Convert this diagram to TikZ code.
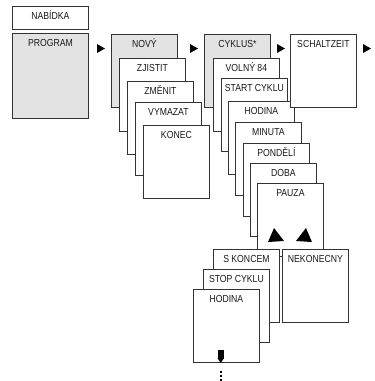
\documentclass[tikz,border=0pt]{standalone}
\usepackage{fontspec}
\setmainfont{Liberation Sans}[FakeStretch=0.85]

\begin{document}
\begin{tikzpicture}[
x=1pt,y=-1pt,font=\fontsize{10.2}{12}\selectfont,
card/.style={draw=black!80,line width=.8pt,fill=white,anchor=north west,
  minimum width=66pt,minimum height=73pt,inner sep=0pt,
  label={[anchor=base,label distance=-13.8pt,text=black!90]north:#1}},
firstcard/.style={card=#1,fill=black!11},
tip/.style={fill=black}
]
\useasboundingbox (0,0) rectangle (375,381);
% menu head
\node[card=NABÍDKA,minimum width=76pt,minimum height=23pt] (nabidka) at (12,6) {};
\node[firstcard=PROGRAM,minimum width=76pt,minimum height=85pt] (program) at (12,33) {};
% first stack
\node[firstcard=NOVÝ] (novy) at (111,34) {};
\foreach \x/\y/\t/\n in {119/58/ZJISTIT/zjistit,127/81/ZMĚNIT/zmenit,
  135/102/VYMAZAT/vymazat,143/125/KONEC/konec}
{
\node[card=\t] (\n) at (\x,\y) {};
}
% second stack
\node[firstcard=CYKLUS*] (cyklus) at (204,34) {};
\foreach \x/\y/\t/\n in {213/58/VOLNÝ 84/volny,221/78/START CYKLU/start,
  228/101/HODINA/hodina,235/122/MINUTA/minuta,243/143/PONDĚLÍ/pondeli,
  250/163/DOBA/doba,257/183/PAUZA/pauza}
{
\node[card=\t] (\n) at (\x,\y) {};
}
\node[card=SCHALTZEIT] (schaltzeit) at (290,34) {};
% arrows
\foreach \x in {97,190,277,363}
{
\fill[tip] (\x,44) -- ++(8,4.5) -- ++(-8,4.5) -- cycle;
}
\fill[tip] (268,242) -- (284,241) -- (274,228) -- cycle;
\fill[tip] (296,241) -- (312,242) -- (306,228) -- cycle;
% lower stack
\node[card=S KONCEM] (skoncem) at (213,249) {};
\node[card=NEKONECNY] (nekonecny) at (282,249) {};
\node[card=STOP CYKLU] (stopcyklu) at (203,269) {};
\node[card=HODINA] (hodinab) at (193,289) {};
\fill[tip] (218,350) rectangle (223.5,359);
\fill[tip] (217.5,358) -- (224,358) -- (220.75,363) -- cycle;
\foreach \y in {371,375,379}
{
\fill[tip] (219.5,\y) rectangle ++(2,2);
}
%\draw[help lines] (0,0) grid[step=10] (375,381);
\end{tikzpicture}
\end{document}
